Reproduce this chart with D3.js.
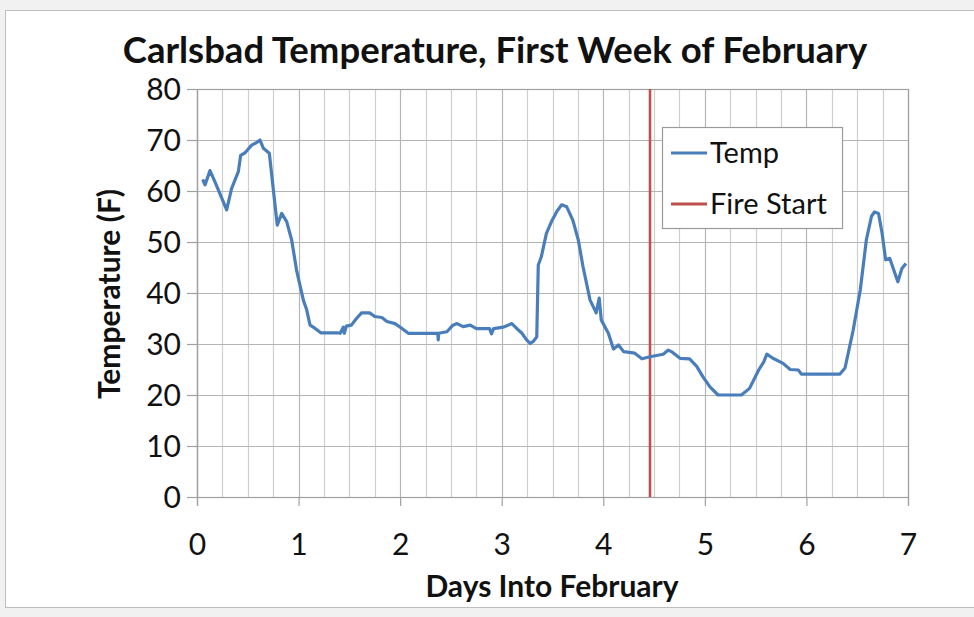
<!DOCTYPE html>
<html>
<head>
<meta charset="utf-8">
<script src="https://cdn.jsdelivr.net/npm/d3@7"></script>
<style>
  html, body { margin: 0; padding: 0; background: #f1f1f1; }
  svg { display: block; }
  text { font-family: Lato, "Open Sans", sans-serif; fill: #111; }
</style>
</head>
<body>
<svg id="chart" width="974" height="617"></svg>
<script>
// Temperature readings (days into February, degrees F)
const days = [0.056, 0.079, 0.128, 0.177, 0.292, 0.341, 0.407, 0.43, 0.473, 0.538, 0.588, 0.62,
  0.653, 0.712, 0.79, 0.834, 0.883, 0.932, 0.98, 1.047, 1.08, 1.113, 1.16, 1.218, 1.375,
  1.41, 1.44, 1.45, 1.47, 1.52, 1.57, 1.62, 1.70, 1.75, 1.82, 1.87, 1.95, 2.015, 2.08,
  2.37, 2.375, 2.38, 2.46, 2.52, 2.56, 2.62, 2.69, 2.75, 2.88, 2.9, 2.92, 3.015, 3.1,
  3.15, 3.2, 3.245, 3.28, 3.31, 3.345, 3.36, 3.39, 3.44, 3.49, 3.54, 3.59, 3.64, 3.70,
  3.754, 3.80, 3.87, 3.93, 3.96, 3.98, 4.05, 4.10, 4.15, 4.20, 4.31, 4.38, 4.46, 4.59,
  4.64, 4.68, 4.755, 4.85, 4.92, 4.98, 5.05, 5.13, 5.36, 5.44, 5.53, 5.58, 5.61, 5.67,
  5.77, 5.84, 5.92, 5.95, 6.33, 6.38, 6.46, 6.53, 6.59, 6.64, 6.67, 6.71, 6.745, 6.78,
  6.82, 6.86, 6.90, 6.94, 6.98];
const temps = [62.3, 61.2, 64, 61.8, 56.3, 60.5, 63.8, 67, 67.5, 69, 69.5, 70,
  68.4, 67.4, 53.3, 55.6, 54, 50.4, 44.5, 38.6, 36.7, 33.7, 33.1, 32.2, 32.2,
  32.1, 33.3, 32.1, 33.5, 33.7, 35, 36.1, 36.1, 35.4, 35.2, 34.4, 34, 33.1, 32.1,
  32.1, 30.8, 32.1, 32.4, 33.7, 34, 33.4, 33.7, 33, 33, 32, 33, 33.3, 34,
  33, 32.1, 30.8, 30.1, 30.5, 31.4, 45.5, 47.1, 51.7, 54, 55.9, 57.3, 56.9, 54.3,
  50.4, 45.2, 38.6, 36.1, 39, 34.7, 32.1, 29, 29.8, 28.5, 28.2, 27.1, 27.5, 28,
  28.8, 28.4, 27.2, 27.1, 25.6, 23.6, 21.6, 20, 20, 21.3, 24.9, 26.5, 28, 27.2,
  26.2, 25, 24.9, 24.1, 24.1, 25.3, 32.7, 40.6, 50.4, 55, 55.9, 55.6, 51.7, 46.5,
  46.8, 44.5, 42.2, 44.8, 45.8];
const fireStart = 4.46;
const xTicks = [0, 1, 2, 3, 4, 5, 6, 7];
const yTicks = [0, 10, 20, 30, 40, 50, 60, 70, 80];
const legendLabels = ["Temp", "Fire Start"];

const blue = "#4a7ebb";
const red = "#c0504d";

const svg = d3.select("#chart");

// Chart frame
svg.append("rect").attr("x", 5.5).attr("y", 10.5).attr("width", 980).attr("height", 597)
  .attr("fill", "#fff").attr("stroke", "#bdbdbd");

const plotLeft = 197, plotRight = 908, plotTop = 89, plotBottom = 497;
const x = d3.scaleLinear().domain([0, 7]).range([plotLeft, plotRight]);
const y = d3.scaleLinear().domain([0, 80]).range([plotBottom, plotTop]);

// Gridlines: quarter-day verticals, every 10 F horizontals
const grid = svg.append("g");
grid.selectAll("line.v").data(d3.range(0, 7.001, 0.25)).join("line")
  .attr("x1", d => Math.round(x(d)) + 0.5).attr("x2", d => Math.round(x(d)) + 0.5)
  .attr("y1", plotTop).attr("y2", plotBottom)
  .attr("stroke", d => Number.isInteger(d) ? "#b5b5b5" : "#cfcfcf").attr("stroke-width", 1.2);
grid.selectAll("line.h").data(yTicks).join("line")
  .attr("x1", plotLeft).attr("x2", plotRight)
  .attr("y1", d => Math.round(y(d)) + 0.5).attr("y2", d => Math.round(y(d)) + 0.5)
  .attr("stroke", "#b5b5b5").attr("stroke-width", 1.2);

// Plot border
svg.append("rect").attr("x", plotLeft + 0.5).attr("y", plotTop + 0.5)
  .attr("width", plotRight - plotLeft).attr("height", plotBottom - plotTop)
  .attr("fill", "none").attr("stroke", "#a0a0a0").attr("stroke-width", 1.2);

// Axes
const xAxis = svg.append("g").attr("transform", `translate(0,${plotBottom})`)
  .call(d3.axisBottom(x).tickValues(xTicks).tickFormat(d3.format("d")).tickSize(9).tickPadding(28));
const yAxis = svg.append("g").attr("transform", `translate(${plotLeft},0)`)
  .call(d3.axisLeft(y).tickValues(yTicks).tickFormat(d3.format("d")).tickSize(10).tickPadding(6));
[xAxis, yAxis].forEach(a => {
  a.select(".domain").attr("stroke", "#a0a0a0").attr("stroke-width", 1.2);
  a.selectAll(".tick line").attr("stroke", "#a0a0a0").attr("stroke-width", 1.2);
  a.selectAll(".tick text").attr("font-size", 30).attr("fill", "#111")
    .style("font-family", "Lato, sans-serif");
});
yAxis.selectAll(".tick text").attr("dy", "0.36em");

// Fire start marker
svg.append("line")
  .attr("x1", x(fireStart)).attr("x2", x(fireStart))
  .attr("y1", plotTop).attr("y2", plotBottom)
  .attr("stroke", red).attr("stroke-width", 2.6);

// Temperature series
const pts = days.map((d, i) => [d, temps[i]]);
svg.append("path").datum(pts)
  .attr("fill", "none").attr("stroke", blue).attr("stroke-width", 3.2)
  .attr("stroke-linejoin", "round")
  .attr("d", d3.line().x(d => x(d[0])).y(d => y(d[1])));

// Titles
svg.append("text").attr("x", 495).attr("y", 63).attr("text-anchor", "middle")
  .attr("font-size", 36.5).attr("font-weight", "bold")
  .text("Carlsbad Temperature, First Week of February");
svg.append("text").attr("x", 552).attr("y", 597).attr("text-anchor", "middle")
  .attr("font-size", 30).attr("font-weight", "bold")
  .text("Days Into February");
svg.append("text").attr("transform", "translate(120,294) rotate(-90)")
  .attr("text-anchor", "middle").attr("font-size", 30).attr("font-weight", "bold")
  .text("Temperature (F)");

// Legend
const lg = svg.append("g");
lg.append("rect").attr("x", 662.5).attr("y", 127.5).attr("width", 180).attr("height", 101)
  .attr("fill", "#fff").attr("stroke", "#9a9a9a").attr("stroke-width", 1.2);
const colors = [blue, red];
legendLabels.forEach((lab, i) => {
  const cy = 153 + i * 51;
  lg.append("line").attr("x1", 671).attr("x2", 707).attr("y1", cy).attr("y2", cy)
    .attr("stroke", colors[i]).attr("stroke-width", 3);
  lg.append("text").attr("x", 710).attr("y", cy).attr("dy", "0.36em")
    .attr("font-size", 29).text(lab);
});
</script>
</body>
</html>
